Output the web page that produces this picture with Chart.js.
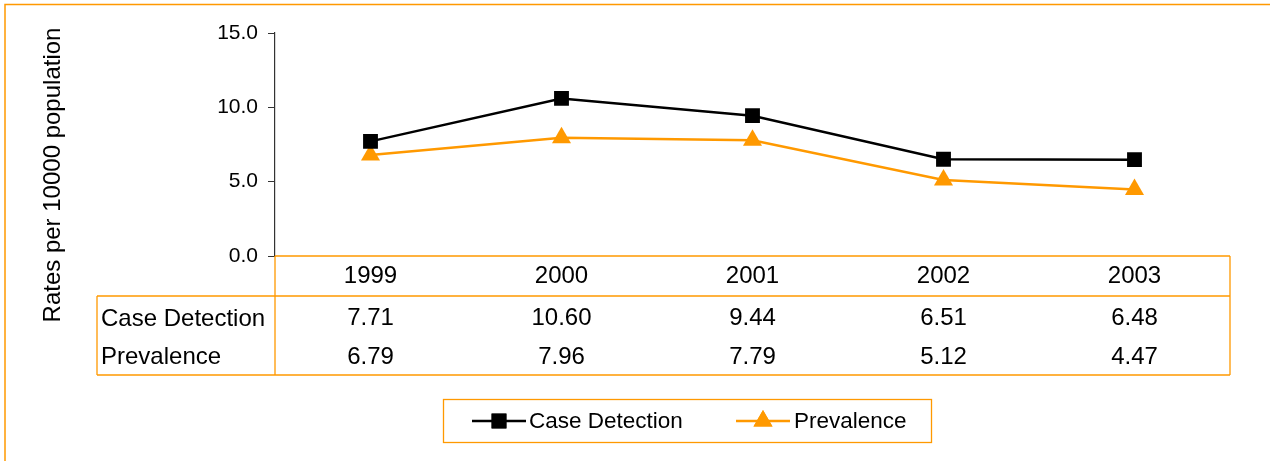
<!DOCTYPE html>
<html>
<head>
<meta charset="utf-8">
<script src="https://cdn.jsdelivr.net/npm/chart.js@4/dist/chart.umd.min.js"></script>
<style>
  html, body { margin: 0; padding: 0; background: #fff; }
  #wrap { width: 1270px; height: 461px; }
</style>
</head>
<body>
<div id="wrap"><canvas id="rateChart" width="1270" height="461"></canvas></div>
<script>
const years = ["1999", "2000", "2001", "2002", "2003"];
const caseDetection = [7.71, 10.6, 9.44, 6.51, 6.48];
const prevalence = [6.79, 7.96, 7.79, 5.12, 4.47];
const yTicks = [0, 5, 10, 15];

const ORANGE = "#ff9900";
const FONT = "'Liberation Sans', Arial, sans-serif";

// frame, axis title, data table and legend
const extras = {
  id: "extras",
  afterDraw(chart) {
    const ctx = chart.ctx;
    const x = chart.scales.x;
    const area = chart.chartArea;
    ctx.save();

    // outer frame
    ctx.strokeStyle = ORANGE;
    ctx.lineWidth = 1.5;
    ctx.beginPath();
    ctx.moveTo(5, 461);
    ctx.lineTo(5, 4.5);
    ctx.lineTo(1270, 4.5);
    ctx.stroke();

    // y title
    ctx.fillStyle = "#000";
    ctx.font = "24px " + FONT;
    ctx.textAlign = "center";
    ctx.textBaseline = "middle";
    ctx.save();
    ctx.translate(53, 175);
    ctx.rotate(-Math.PI / 2);
    ctx.fillText("Rates per 10000 population", 0, 0);
    ctx.restore();

    // table
    const left = area.left, right = area.right;
    const top = area.bottom, mid = 296, bottom = 375, labelLeft = 97;
    ctx.strokeStyle = ORANGE;
    ctx.lineWidth = 1.3;
    ctx.beginPath();
    ctx.moveTo(left, top); ctx.lineTo(right, top);
    ctx.moveTo(labelLeft, mid); ctx.lineTo(right, mid);
    ctx.moveTo(labelLeft, bottom); ctx.lineTo(right, bottom);
    ctx.moveTo(labelLeft, mid); ctx.lineTo(labelLeft, bottom);
    ctx.moveTo(left, top); ctx.lineTo(left, bottom);
    ctx.moveTo(right, top); ctx.lineTo(right, bottom);
    ctx.stroke();

    ctx.fillStyle = "#000";
    ctx.font = "24px " + FONT;
    ctx.textAlign = "center";
    years.forEach((yr, i) => {
      const cx = x.getPixelForValue(i);
      ctx.fillText(yr, cx, 276);
      ctx.fillText(caseDetection[i].toFixed(2), cx, 318);
      ctx.fillText(prevalence[i].toFixed(2), cx, 357);
    });
    ctx.textAlign = "left";
    ctx.fillText(chart.data.datasets[0].label, 101, 319);
    ctx.fillText(chart.data.datasets[1].label, 101, 357);

    // legend
    ctx.strokeStyle = ORANGE;
    ctx.lineWidth = 1.3;
    ctx.strokeRect(443.5, 399.5, 488, 43);
    const items = [
      { ds: chart.data.datasets[0], x0: 472, tx: 529 },
      { ds: chart.data.datasets[1], x0: 736, tx: 794 }
    ];
    ctx.font = "22.5px " + FONT;
    items.forEach((it) => {
      const cy = 421;
      ctx.strokeStyle = it.ds.borderColor;
      ctx.lineWidth = 2.5;
      ctx.beginPath();
      ctx.moveTo(it.x0, cy);
      ctx.lineTo(it.x0 + 54, cy);
      ctx.stroke();
      ctx.fillStyle = it.ds.pointBackgroundColor;
      Chart.helpers.drawPoint(ctx, {
        pointStyle: it.ds.pointStyle,
        radius: it.ds.pointRadius,
        borderWidth: 0,
        rotation: 0
      }, it.x0 + 27, cy);
      ctx.fill();
      ctx.fillStyle = "#000";
      ctx.textAlign = "left";
      ctx.textBaseline = "middle";
      ctx.fillText(it.ds.label, it.tx, cy + 1);
    });

    ctx.restore();
  }
};

new Chart(document.getElementById("rateChart"), {
  type: "line",
  data: {
    labels: years,
    datasets: [
      {
        label: "Case Detection",
        data: caseDetection,
        borderColor: "#000",
        backgroundColor: "#000",
        pointBackgroundColor: "#000",
        pointBorderColor: "#000",
        pointBorderWidth: 0,
        pointStyle: "rect",
        pointRadius: 10.5,
        borderWidth: 2.5,
        tension: 0
      },
      {
        label: "Prevalence",
        data: prevalence,
        borderColor: ORANGE,
        backgroundColor: ORANGE,
        pointBackgroundColor: ORANGE,
        pointBorderColor: ORANGE,
        pointBorderWidth: 0,
        pointStyle: "triangle",
        pointRadius: 11,
        borderWidth: 2.5,
        tension: 0
      }
    ]
  },
  options: {
    responsive: false,
    animation: false,
    events: [],
    layout: { padding: { left: 0, top: 33, right: 40, bottom: 205 } },
    plugins: {
      legend: { display: false },
      tooltip: { enabled: false }
    },
    scales: {
      x: { display: false, offset: true },
      y: {
        min: 0,
        max: 15,
        afterFit: (scale) => { scale.width = 275; },
        afterBuildTicks: (scale) => { scale.ticks = yTicks.map((v) => ({ value: v })); },
        ticks: {
          color: "#000",
          padding: 10,
          font: { family: FONT, size: 21 },
          callback: (v) => v.toFixed(1)
        },
        grid: { drawOnChartArea: false, drawTicks: true, tickLength: 7, color: "#333" },
        border: { color: "#333", width: 1.2 }
      }
    }
  },
  plugins: [extras]
});
</script>
</body>
</html>
